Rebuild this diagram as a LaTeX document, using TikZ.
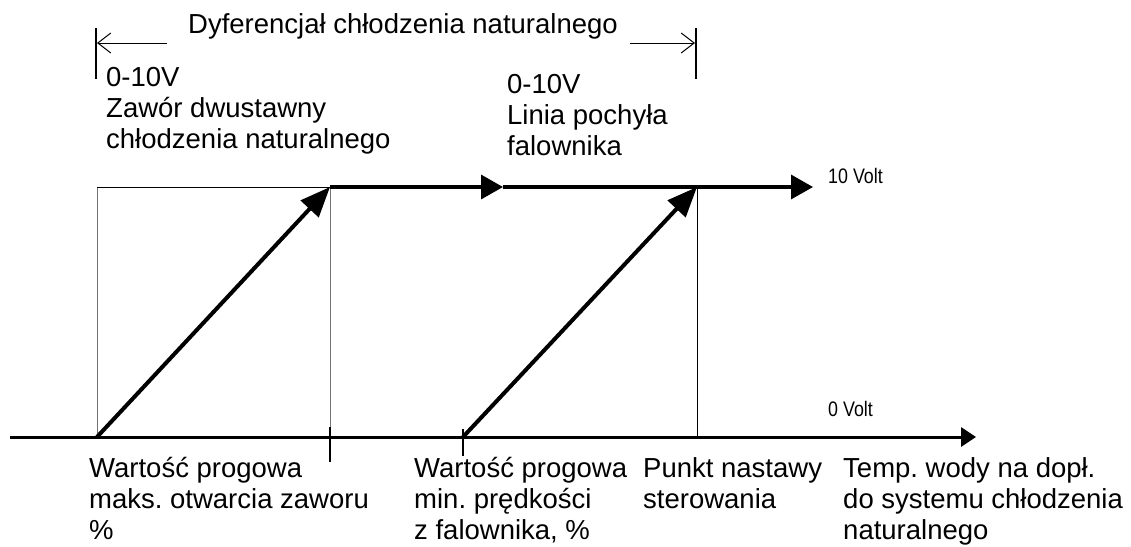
\documentclass[tikz,border=0pt]{standalone}
\usepackage{fontspec}
\setmainfont{Liberation Sans}
\newfontfamily\narrowfont[FakeStretch=0.85]{Liberation Sans}
\usetikzlibrary{arrows.meta}
\frenchspacing

\begin{document}
\begin{tikzpicture}[x=1pt,y=-1pt,
  lbl/.style={font=\fontsize{27.5}{31}\selectfont, align=left, inner sep=0pt, anchor=north west},
  volt/.style={font=\narrowfont\fontsize{21}{24}\selectfont, inner sep=0pt, anchor=base west},
  thinline/.style={line width=1pt, black},
  guide/.style={line width=1pt, black!55},
  dimbar/.style={line width=1.2pt},
  dimarrow/.style={line width=1pt, -{Straight Barb[length=13pt,width=20pt]}},
  ramp/.style={line width=4pt, -{Triangle[length=30pt,width=24pt]}},
  flat/.style={line width=3.5pt, -{Triangle[length=22pt,width=24pt]}},
  axis/.style={line width=3pt, -{Triangle[length=15pt,width=19pt]}},
  tick/.style={line width=2.5pt}
]
\useasboundingbox (0,0) rectangle (1131,546);

% key points of the characteristic
\coordinate (o1) at (97,437);
\coordinate (c1) at (97,187);
\coordinate (t1) at (330,187);
\coordinate (b1) at (330,437);
\coordinate (m)  at (503,187);
\coordinate (o2) at (463,437);
\coordinate (t2) at (697,187);
\coordinate (b2) at (697,437);
\coordinate (e)  at (813,187);
\coordinate (ax0) at (10,437);
\coordinate (ax1) at (976,437);
\coordinate (k1a) at (330,427);
\coordinate (k1b) at (330,462);
\coordinate (k2a) at (463,429);
\coordinate (k2b) at (463,456);

% differential dimension
\coordinate (dl0) at (96,28);
\coordinate (dl1) at (96,79);
\coordinate (dr0) at (696,28);
\coordinate (dr1) at (696,79);
\coordinate (al0) at (167,43);
\coordinate (al1) at (97,43);
\coordinate (ar0) at (630,43);
\coordinate (ar1) at (695,43);

\draw[dimbar] (dl0) -- (dl1);
\draw[dimbar] (dr0) -- (dr1);
\draw[dimarrow] (al0) -- (al1);
\draw[dimarrow] (ar0) -- (ar1);

% guide lines
\draw[guide] (c1) -- (o1);
\draw[thinline] (c1) -- (t1);
\draw[guide] (t1) -- (b1);
\draw[thinline] (t2) -- (b2);

% temperature axis and ticks
\draw[axis] (ax0) -- (ax1);
\draw[tick] (k1a) -- (k1b);
\draw[tick] (k2a) -- (k2b);

% output signals
\draw[ramp] (o1) -- (t1);
\draw[ramp] (o2) -- (t2);
\draw[flat] (t1) -- (m);
\draw[flat] (m) -- (e);

% texts
\node[lbl] (title) at (188,11.3) {\strut Dyferencjał chłodzenia naturalnego};
\node[lbl] (valve) at (106,64.3) {\strut 0-10V\\Zawór dwustawny\\chłodzenia naturalnego};
\node[lbl] (slope) at (507,71.3) {\strut 0-10V\\Linia pochyła\\falownika};
\node[volt] (v10) at (828,183) {10 Volt};
\node[volt] (v0) at (828,416) {0 Volt};
\node[lbl] (thr1) at (89,455.3) {\strut Wartość progowa\\maks. otwarcia zaworu\\\%};
\node[lbl] (thr2) at (414,455.3) {\strut Wartość progowa\\min. prędkości\\z falownika, \%};
\node[lbl] (setp) at (643,455.3) {\strut Punkt nastawy\\sterowania};
\node[lbl] (temp) at (843,455.3) {\strut Temp. wody na dopł.\\do systemu chłodzenia\\naturalnego};
\end{tikzpicture}
\end{document}
